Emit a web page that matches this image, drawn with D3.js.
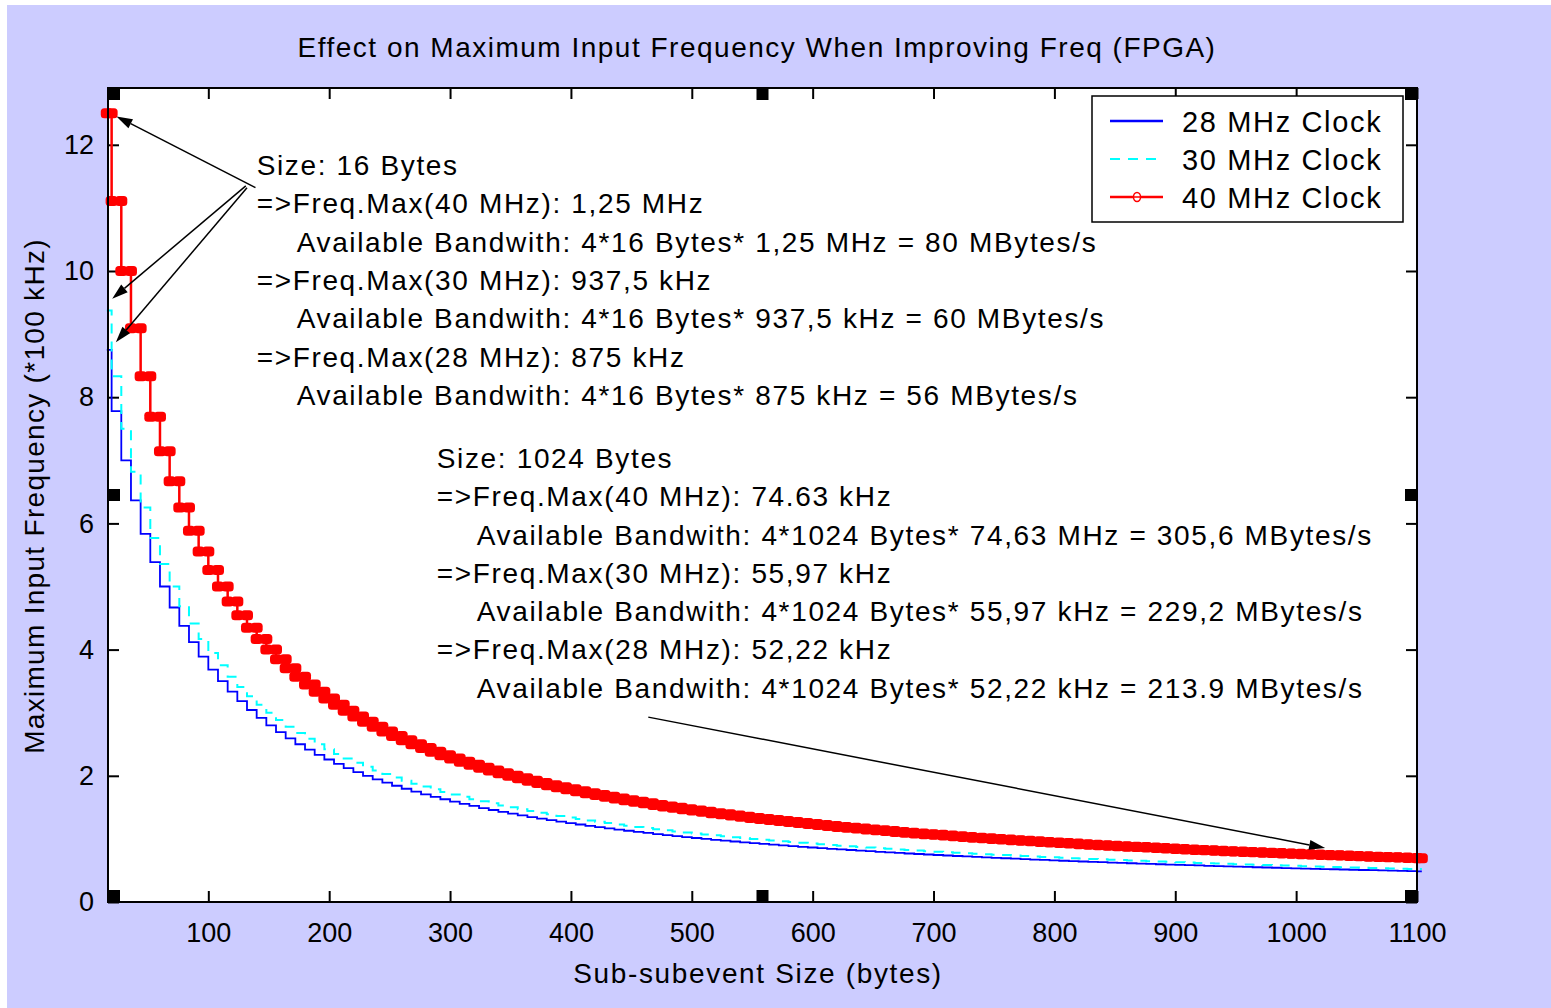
<!DOCTYPE html>
<html>
<head>
<meta charset="utf-8">
<script src="https://cdn.jsdelivr.net/npm/d3@7"></script>
<style>
  body { margin: 0; background: #fff; }
  text { font-family: "Liberation Sans", Arial, sans-serif; fill: #000; }
</style>
</head>
<body>
<svg id="chart" width="1551" height="1008"></svg>
<script>
// sub-subevent sizes (bytes)
const sizes = [
  16, 24, 32, 40, 48, 56, 64, 72, 80, 88,
  96, 104, 112, 120, 128, 136, 144, 152, 160, 168,
  176, 184, 192, 200, 208, 216, 224, 232, 240, 248,
  256, 264, 272, 280, 288, 296, 304, 312, 320, 328,
  336, 344, 352, 360, 368, 376, 384, 392, 400, 408,
  416, 424, 432, 440, 448, 456, 464, 472, 480, 488,
  496, 504, 512, 520, 528, 536, 544, 552, 560, 568,
  576, 584, 592, 600, 608, 616, 624, 632, 640, 648,
  656, 664, 672, 680, 688, 696, 704, 712, 720, 728,
  736, 744, 752, 760, 768, 776, 784, 792, 800, 808,
  816, 824, 832, 840, 848, 856, 864, 872, 880, 888,
  896, 904, 912, 920, 928, 936, 944, 952, 960, 968,
  976, 984, 992, 1000, 1008, 1016, 1024, 1032, 1040, 1048,
  1056, 1064, 1072, 1080, 1088, 1096, 1104
];

// max input frequency (*100 kHz)
const clock28 = [
  8.75, 7.778, 7, 6.364, 5.833, 5.385, 5, 4.667, 4.375, 4.118,
  3.889, 3.684, 3.5, 3.333, 3.182, 3.043, 2.917, 2.8, 2.692, 2.593,
  2.5, 2.414, 2.333, 2.258, 2.188, 2.121, 2.059, 2, 1.944, 1.892,
  1.842, 1.795, 1.75, 1.707, 1.667, 1.628, 1.591, 1.556, 1.522, 1.489,
  1.458, 1.429, 1.4, 1.373, 1.346, 1.321, 1.296, 1.273, 1.25, 1.228,
  1.207, 1.186, 1.167, 1.148, 1.129, 1.111, 1.094, 1.077, 1.061, 1.045,
  1.029, 1.014, 1, 0.986, 0.972, 0.959, 0.946, 0.933, 0.921, 0.909,
  0.897, 0.886, 0.875, 0.864, 0.854, 0.843, 0.833, 0.824, 0.814, 0.805,
  0.795, 0.787, 0.778, 0.769, 0.761, 0.753, 0.745, 0.737, 0.729, 0.722,
  0.714, 0.707, 0.7, 0.693, 0.686, 0.68, 0.673, 0.667, 0.66, 0.654,
  0.648, 0.642, 0.636, 0.631, 0.625, 0.619, 0.614, 0.609, 0.603, 0.598,
  0.593, 0.588, 0.583, 0.579, 0.574, 0.569, 0.565, 0.56, 0.556, 0.551,
  0.547, 0.543, 0.538, 0.534, 0.53, 0.526, 0.522, 0.519, 0.515, 0.511,
  0.507, 0.504, 0.5, 0.496, 0.493, 0.49, 0.486
];
const clock30 = [
  9.375, 8.333, 7.5, 6.818, 6.25, 5.769, 5.357, 5, 4.688, 4.412,
  4.167, 3.947, 3.75, 3.571, 3.409, 3.261, 3.125, 3, 2.885, 2.778,
  2.679, 2.586, 2.5, 2.419, 2.344, 2.273, 2.206, 2.143, 2.083, 2.027,
  1.974, 1.923, 1.875, 1.829, 1.786, 1.744, 1.705, 1.667, 1.63, 1.596,
  1.563, 1.531, 1.5, 1.471, 1.442, 1.415, 1.389, 1.364, 1.339, 1.316,
  1.293, 1.271, 1.25, 1.23, 1.21, 1.19, 1.172, 1.154, 1.136, 1.119,
  1.103, 1.087, 1.071, 1.056, 1.042, 1.027, 1.014, 1, 0.987, 0.974,
  0.962, 0.949, 0.938, 0.926, 0.915, 0.904, 0.893, 0.882, 0.872, 0.862,
  0.852, 0.843, 0.833, 0.824, 0.815, 0.806, 0.798, 0.789, 0.781, 0.773,
  0.765, 0.758, 0.75, 0.743, 0.735, 0.728, 0.721, 0.714, 0.708, 0.701,
  0.694, 0.688, 0.682, 0.676, 0.67, 0.664, 0.658, 0.652, 0.647, 0.641,
  0.636, 0.63, 0.625, 0.62, 0.615, 0.61, 0.605, 0.6, 0.595, 0.591,
  0.586, 0.581, 0.577, 0.573, 0.568, 0.564, 0.56, 0.556, 0.551, 0.547,
  0.543, 0.54, 0.536, 0.532, 0.528, 0.524, 0.521
];
const clock40 = [
  12.5, 11.111, 10, 9.091, 8.333, 7.692, 7.143, 6.667, 6.25, 5.882,
  5.556, 5.263, 5, 4.762, 4.545, 4.348, 4.167, 4, 3.846, 3.704,
  3.571, 3.448, 3.333, 3.226, 3.125, 3.03, 2.941, 2.857, 2.778, 2.703,
  2.632, 2.564, 2.5, 2.439, 2.381, 2.326, 2.273, 2.222, 2.174, 2.128,
  2.083, 2.041, 2, 1.961, 1.923, 1.887, 1.852, 1.818, 1.786, 1.754,
  1.724, 1.695, 1.667, 1.639, 1.613, 1.587, 1.563, 1.538, 1.515, 1.493,
  1.471, 1.449, 1.429, 1.408, 1.389, 1.37, 1.351, 1.333, 1.316, 1.299,
  1.282, 1.266, 1.25, 1.235, 1.22, 1.205, 1.19, 1.176, 1.163, 1.149,
  1.136, 1.124, 1.111, 1.099, 1.087, 1.075, 1.064, 1.053, 1.042, 1.031,
  1.02, 1.01, 1, 0.99, 0.98, 0.971, 0.962, 0.952, 0.943, 0.935,
  0.926, 0.917, 0.909, 0.901, 0.893, 0.885, 0.877, 0.87, 0.862, 0.855,
  0.847, 0.84, 0.833, 0.826, 0.82, 0.813, 0.806, 0.8, 0.794, 0.787,
  0.781, 0.775, 0.769, 0.763, 0.758, 0.752, 0.746, 0.741, 0.735, 0.73,
  0.725, 0.719, 0.714, 0.709, 0.704, 0.699, 0.694
];

const xTicks = [100, 200, 300, 400, 500, 600, 700, 800, 900, 1000, 1100];
const yTicks = [0, 2, 4, 6, 8, 10, 12];
const legendNames = ['28 MHz Clock', '30 MHz Clock', '40 MHz Clock'];

// [indented?, text]
const note16 = [
  [0, 'Size: 16 Bytes'],
  [0, '=>Freq.Max(40 MHz): 1,25 MHz'],
  [1, 'Available Bandwith: 4*16 Bytes* 1,25 MHz = 80 MBytes/s'],
  [0, '=>Freq.Max(30 MHz): 937,5 kHz'],
  [1, 'Available Bandwith: 4*16 Bytes* 937,5 kHz = 60 MBytes/s'],
  [0, '=>Freq.Max(28 MHz): 875 kHz'],
  [1, 'Available Bandwith: 4*16 Bytes* 875 kHz = 56 MBytes/s']
];
const note1024 = [
  [0, 'Size: 1024 Bytes'],
  [0, '=>Freq.Max(40 MHz): 74.63 kHz'],
  [1, 'Available Bandwith: 4*1024 Bytes* 74,63 MHz = 305,6 MBytes/s'],
  [0, '=>Freq.Max(30 MHz): 55,97 kHz'],
  [1, 'Available Bandwith: 4*1024 Bytes* 55,97 kHz = 229,2 MBytes/s'],
  [0, '=>Freq.Max(28 MHz): 52,22 kHz'],
  [1, 'Available Bandwith: 4*1024 Bytes* 52,22 kHz = 213.9 MBytes/s']
];

const svg = d3.select('#chart');
const spacing = '1.65px';

// figure background
svg.append('rect')
  .attr('x', 7).attr('y', 5)
  .attr('width', 1544).attr('height', 1003)
  .attr('fill', '#ccccff');

const box = { left: 108, top: 88, right: 1417, bottom: 902 };

const x = d3.scaleLinear().domain([17, 1100]).range([box.left, box.right]);
const y = d3.scaleLinear().domain([0, 12.9]).range([box.bottom, box.top]);

// axes area
svg.append('rect')
  .attr('x', box.left).attr('y', box.top)
  .attr('width', box.right - box.left).attr('height', box.bottom - box.top)
  .attr('fill', '#fff');

// ticks on all four sides, pointing inward
const tickLen = 11;
const fmt = d3.format('d');
const axes = [
  { ax: d3.axisBottom(x).tickValues(xTicks).tickFormat(fmt).tickSize(-tickLen).tickPadding(21), at: [0, box.bottom] },
  { ax: d3.axisTop(x).tickValues(xTicks).tickSize(-tickLen).tickFormat(''), at: [0, box.top] },
  { ax: d3.axisLeft(y).tickValues(yTicks).tickFormat(fmt).tickSize(-tickLen).tickPadding(14), at: [box.left, 0] },
  { ax: d3.axisRight(y).tickValues(yTicks).tickSize(-tickLen).tickFormat(''), at: [box.right, 0] }
];
axes.forEach(a => {
  const g = svg.append('g')
    .attr('transform', `translate(${a.at[0]},${a.at[1]})`)
    .call(a.ax);
  g.select('.domain').remove();
  g.selectAll('.tick line').attr('stroke', '#000').attr('stroke-width', 2);
  g.selectAll('.tick text')
    .attr('font-size', 27)
    .attr('font-family', '"Liberation Sans", Arial, sans-serif');
});

// series
const stepLine = vals => d3.line()
  .x((d, i) => x(sizes[i]))
  .y(d => y(d))
  .curve(d3.curveStep)(vals);

svg.append('path')
  .attr('d', stepLine(clock28))
  .attr('fill', 'none').attr('stroke', '#0000ff').attr('stroke-width', 1.8);

svg.append('path')
  .attr('d', stepLine(clock30))
  .attr('fill', 'none').attr('stroke', '#00ffff').attr('stroke-width', 2)
  .attr('stroke-dasharray', '10,8');

svg.append('path')
  .attr('d', stepLine(clock40))
  .attr('fill', 'none').attr('stroke', '#ff0000').attr('stroke-width', 2.5);

// markers on every corner of the 40 MHz staircase
const corners = [];
sizes.forEach((s, i) => {
  const left = i === 0 ? s : (sizes[i - 1] + s) / 2;
  const right = i === sizes.length - 1 ? s : (s + sizes[i + 1]) / 2;
  corners.push([left, clock40[i]], [right, clock40[i]]);
});
const mw = 12, mh = 10;
svg.append('g').selectAll('rect')
  .data(corners)
  .join('rect')
  .attr('x', d => x(d[0]) - mw / 2)
  .attr('y', d => y(d[1]) - mh / 2)
  .attr('width', mw).attr('height', mh)
  .attr('rx', 3.5)
  .attr('fill', '#ff0000');

// axes box
svg.append('rect')
  .attr('x', box.left).attr('y', box.top)
  .attr('width', box.right - box.left).attr('height', box.bottom - box.top)
  .attr('fill', 'none').attr('stroke', '#000').attr('stroke-width', 2);

// arrows (data coords)
function arrow(from, to) {
  const x1 = x(from[0]), y1 = y(from[1]);
  const x2 = x(to[0]), y2 = y(to[1]);
  const ang = Math.atan2(y2 - y1, x2 - x1);
  const L = 16, W = 5;
  const bx = x2 - L * Math.cos(ang), by = y2 - L * Math.sin(ang);
  svg.append('line')
    .attr('x1', x1).attr('y1', y1).attr('x2', bx).attr('y2', by)
    .attr('stroke', '#000').attr('stroke-width', 1.5);
  svg.append('path')
    .attr('d', `M${x2},${y2}L${bx + W * Math.sin(ang)},${by - W * Math.cos(ang)}L${bx - W * Math.sin(ang)},${by + W * Math.cos(ang)}Z`)
    .attr('fill', '#000');
}
arrow([139, 11.32], [24, 12.45]);
arrow([131, 11.35], [20.5, 9.56]);
arrow([132, 11.32], [23.5, 8.87]);
arrow([464, 2.93], [1024, 0.856]);

// text notes
function note(lines, anchor) {
  const g = svg.append('g');
  lines.forEach((l, i) => {
    g.append('text')
      .attr('x', x(anchor[0]) + (l[0] ? 40 : 0))
      .attr('y', y(anchor[1]) + i * 38.3)
      .attr('font-size', 28)
      .style('letter-spacing', spacing)
      .text(l[1]);
  });
}
note(note16, [140, 11.52]);
note(note1024, [289, 6.878]);

// selection handles
const hs = 12;
const midX = (box.left + box.right) / 2, midY = (box.top + box.bottom) / 2;
const handles = [
  [box.left, box.top], [midX - hs / 2, box.top], [box.right - hs, box.top],
  [box.left, midY - hs / 2], [box.right - hs, midY - hs / 2],
  [box.left, box.bottom - hs], [midX - hs / 2, box.bottom - hs], [box.right - hs, box.bottom - hs]
];
svg.append('g').selectAll('rect')
  .data(handles)
  .join('rect')
  .attr('x', d => d[0]).attr('y', d => d[1])
  .attr('width', hs).attr('height', hs)
  .attr('fill', '#000');

// legend
const lg = svg.append('g').attr('transform', 'translate(1092,96)');
lg.append('rect')
  .attr('width', 311).attr('height', 126)
  .attr('fill', '#fff').attr('stroke', '#000').attr('stroke-width', 1.5);
const legendStyle = [
  { color: '#0000ff', dash: null, width: 2.5, marker: false },
  { color: '#00ffff', dash: '10,8', width: 2, marker: false },
  { color: '#ff0000', dash: null, width: 2.5, marker: true }
];
legendNames.forEach((name, i) => {
  const cy = 25 + i * 38;
  lg.append('line')
    .attr('x1', 18).attr('x2', 71).attr('y1', cy).attr('y2', cy)
    .attr('stroke', legendStyle[i].color)
    .attr('stroke-width', legendStyle[i].width)
    .attr('stroke-dasharray', legendStyle[i].dash);
  if (legendStyle[i].marker) {
    lg.append('ellipse')
      .attr('cx', 45).attr('cy', cy).attr('rx', 3.5).attr('ry', 4.5)
      .attr('fill', '#fff').attr('stroke', '#ff0000').attr('stroke-width', 1.5);
    lg.append('line')
      .attr('x1', 41).attr('x2', 49).attr('y1', cy).attr('y2', cy)
      .attr('stroke', '#ff0000').attr('stroke-width', 1.5);
  }
  lg.append('text')
    .attr('x', 90).attr('y', cy + 11)
    .attr('font-size', 29)
    .style('letter-spacing', spacing)
    .text(name);
});

// titles
svg.append('text')
  .attr('x', 757).attr('y', 57)
  .attr('text-anchor', 'middle')
  .attr('font-size', 28)
  .style('letter-spacing', '1.5px')
  .text('Effect on Maximum Input Frequency When Improving Freq (FPGA)');

svg.append('text')
  .attr('x', 758).attr('y', 983)
  .attr('text-anchor', 'middle')
  .attr('font-size', 28)
  .style('letter-spacing', spacing)
  .text('Sub-subevent Size (bytes)');

svg.append('text')
  .attr('transform', 'translate(44,496) rotate(-90)')
  .attr('text-anchor', 'middle')
  .attr('font-size', 28)
  .style('letter-spacing', '1.3px')
  .text('Maximum Input Frequency (*100 kHz)');
</script>
</body>
</html>
